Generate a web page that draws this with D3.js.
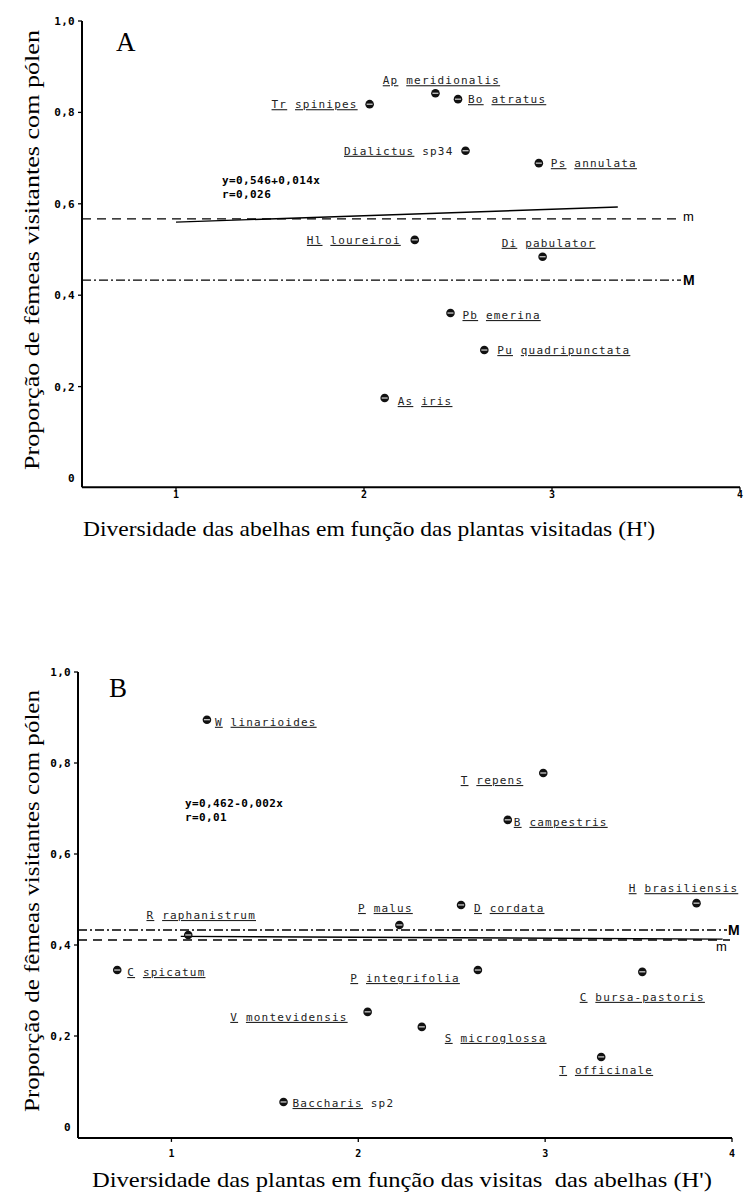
<!DOCTYPE html>
<html><head><meta charset="utf-8">
<script src="https://cdn.jsdelivr.net/npm/d3@7"></script>
<style>body{margin:0;background:#fff}</style>
</head><body>
<svg id="c" width="744" height="1193"></svg>
<script>
// ---------- DATA ----------
const beeNames = ["Tr spinipes","Ap meridionalis","Bo atratus","Dialictus sp34","Ps annulata","Hl loureiroi","Di pabulator","Pb emerina","Pu quadripunctata","As iris"];
const beeH     = [2.03, 2.38, 2.50, 2.54, 2.93, 2.27, 2.95, 2.46, 2.64, 2.11];
const beeProp  = [0.818, 0.842, 0.829, 0.716, 0.689, 0.521, 0.484, 0.361, 0.280, 0.175];

const plantNames = ["W linarioides","T repens","B campestris","H brasiliensis","D cordata","P malus","R raphanistrum","C spicatum","P integrifolia","C bursa-pastoris","V montevidensis","S microglossa","T officinale","Baccharis sp2"];
const plantH     = [1.19, 2.99, 2.80, 3.81, 2.55, 2.22, 1.09, 0.71, 2.64, 3.52, 2.05, 2.34, 3.30, 1.60];
const plantProp  = [0.895, 0.778, 0.675, 0.492, 0.488, 0.444, 0.422, 0.345, 0.345, 0.341, 0.253, 0.220, 0.154, 0.055];

const yTickValues = [0, 0.2, 0.4, 0.6, 0.8, 1.0];
const yTickLabels = ["0", "0,2", "0,4", "0,6", "0,8", "1,0"];
const xTickValues = [1, 2, 3, 4];
const xTickLabels = ["1", "2", "3", "4"];

const refNames  = ["m", "M"];
const refA      = [0.567, 0.433];
const refB      = [0.411, 0.433];

const regA      = [0.546, 0.014];          // intercept, slope
const regAxs    = [1.0, 3.35];
const regBxs    = [1.05, 3.95];
const regBys    = [0.419, 0.413];           // as drawn in the figure

const eqA = ["y=0,546+0,014x", "r=0,026"];
const eqB = ["y=0,462-0,002x", "r=0,01"];

const yTitle  = "Proporção de fêmeas visitantes com pólen";
const xTitleA = "Diversidade das abelhas em função das plantas visitadas (H')";
const xTitleB = "Diversidade das plantas em função das visitas  das abelhas (H')";

// ---------- LAYOUT (label placement, not data) ----------
const placeA = {
  "Tr spinipes":["l",12,0], "Ap meridionalis":["a",6,-13], "Bo atratus":["r",10,0],
  "Dialictus sp34":["l",12,0], "Ps annulata":["r",12,0], "Hl loureiroi":["l",14,0],
  "Di pabulator":["a",6,-14], "Pb emerina":["r",12,2], "Pu quadripunctata":["r",13,0], "As iris":["r",13,3]
};
const placeB = {
  "W linarioides":["r",8,2], "T repens":["l",20,7], "B campestris":["r",6,2],
  "H brasiliensis":["a",-13,-15], "D cordata":["r",13,3], "P malus":["a",-14,-17],
  "R raphanistrum":["a",13,-20], "C spicatum":["r",10,2], "P integrifolia":["l",18,8],
  "C bursa-pastoris":["b",0,25], "V montevidensis":["l",20,5], "S microglossa":["r",23,11],
  "T officinale":["b",5,13], "Baccharis sp2":["r",9,1]
};

const svg = d3.select("#c");
const mono = "'DejaVu Sans Mono', monospace";
const serif = "'Liberation Serif', 'Times New Roman', serif";

function panel(cfg) {
  const x = d3.scaleLinear().domain([0.5, 4]).range([cfg.left, cfg.right]);
  const y = d3.scaleLinear().domain([0, 1]).range([cfg.y0, cfg.y1]);
  const g = svg.append("g");
  const axisY = y(cfg.ymin);

  // axes lines
  g.append("line").attr("x1", x(0.5)).attr("x2", x(0.5)).attr("y1", y(1)).attr("y2", axisY)
    .attr("stroke", "#000").attr("stroke-width", 2);
  g.append("line").attr("x1", x(0.5)).attr("x2", x(4)).attr("y1", axisY).attr("y2", axisY)
    .attr("stroke", "#000").attr("stroke-width", 2);

  // y ticks
  yTickValues.forEach((v, i) => {
    if (v > 0) g.append("line").attr("x1", x(0.5) - 4).attr("x2", x(0.5)).attr("y1", y(v)).attr("y2", y(v))
      .attr("stroke", "#000").attr("stroke-width", 1.3);
    g.append("text").attr("x", x(0.5) - 7).attr("y", y(v) + 4).attr("text-anchor", "end")
      .attr("font-family", mono).attr("font-weight", "bold").attr("font-size", 11)
      .attr("letter-spacing", 0.3).text(yTickLabels[i]);
  });
  // x ticks
  xTickValues.forEach((v, i) => {
    g.append("line").attr("x1", x(v)).attr("x2", x(v)).attr("y1", axisY).attr("y2", axisY + 4)
      .attr("stroke", "#000").attr("stroke-width", 1.3);
    g.append("text").attr("x", x(v)).attr("y", axisY + cfg.xlabOff).attr("text-anchor", "middle")
      .attr("font-family", mono).attr("font-weight", "bold").attr("font-size", 10).text(xTickLabels[i]);
  });

  // reference lines m (dashed) and M (dash-dot)
  cfg.refs.forEach((v, i) => {
    const dash = refNames[i] === "m" ? "9,6" : "9,3,2,3";
    g.append("line").attr("x1", x(0.5)).attr("x2", cfg.refEnd[i]).attr("y1", y(v)).attr("y2", y(v))
      .attr("stroke", "#000").attr("stroke-width", 1.4).attr("stroke-dasharray", dash);
    const lp = cfg.refLab[i];
    g.append("text").attr("x", cfg.refEnd[i] + lp[0]).attr("y", y(v) + lp[1])
      .attr("font-family", "'Liberation Sans', Arial, sans-serif").attr("font-size", refNames[i] === "M" ? 14 : 13)
      .attr("font-weight", refNames[i] === "M" ? "bold" : "normal").text(refNames[i]);
  });

  // regression line
  g.append("path").datum(cfg.reg)
    .attr("d", d3.line().x(d => x(d[0])).y(d => y(d[1])))
    .attr("stroke", "#000").attr("stroke-width", 1.4).attr("fill", "none");

  // equation
  cfg.eq.forEach((t, i) => {
    g.append("text").attr("x", cfg.eqPos[0]).attr("y", cfg.eqPos[1] + i * 14)
      .attr("font-family", mono).attr("font-size", 11).attr("font-weight", "bold")
      .attr("letter-spacing", 0.4).text(t);
  });

  // points and labels
  cfg.names.forEach((name, i) => {
    const px = x(cfg.xs[i]), py = y(cfg.ys[i]);
    g.append("circle").attr("cx", px).attr("cy", py).attr("r", 4.3).attr("fill", "#111");
    g.append("line").attr("x1", px - 3).attr("x2", px + 3).attr("y1", py).attr("y2", py)
      .attr("stroke", "#fff").attr("stroke-width", 1);
    const p = cfg.place[name];
    let tx, ty = py + p[2] + 4, anchor;
    if (p[0] === "r") { tx = px + p[1]; anchor = "start"; }
    else if (p[0] === "l") { tx = px - p[1]; anchor = "end"; }
    else { tx = px + p[1]; anchor = "middle"; }
    const t = g.append("text").attr("x", tx).attr("y", ty).attr("text-anchor", anchor)
      .attr("font-family", mono).attr("font-size", 11).attr("letter-spacing", 1.2).attr("fill", "#222");
    const words = name.split(" ");
    words.forEach((w, k) => {
      if (k > 0) t.append("tspan").text(" ");
      const under = !/^sp\d+$/.test(w);
      t.append("tspan").attr("text-decoration", under ? "underline" : "none").text(w);
    });
  });

  // panel letter
  g.append("text").attr("x", cfg.letterPos[0]).attr("y", cfg.letterPos[1])
    .attr("font-family", serif).attr("font-size", 27).text(cfg.letter);

  // axis titles
  g.append("text").attr("transform", `translate(${cfg.ytPos[0]},${cfg.ytPos[1]}) rotate(-90)`)
    .attr("text-anchor", "middle").attr("font-family", serif).attr("font-size", 22)
    .attr("textLength", cfg.ytLen).attr("lengthAdjust", "spacingAndGlyphs")
    .text(yTitle);
  g.append("text").attr("x", cfg.xtPos[0]).attr("y", cfg.xtPos[1]).attr("text-anchor", "middle")
    .style("white-space", "pre")
    .attr("font-family", serif).attr("font-size", 22)
    .attr("textLength", cfg.xtLen).attr("lengthAdjust", "spacingAndGlyphs")
    .text(cfg.xtitle);
}

panel({
  left: 82, right: 740, y0: 478, y1: 21, ymin: -0.02, xlabOff: 11,
  names: beeNames, xs: beeH, ys: beeProp, place: placeA,
  refs: refA, refEnd: [681, 681], refLab: [[2, 2], [2, 5]],
  reg: regAxs.map(v => [v, regA[0] + regA[1] * v]),
  eq: eqA, eqPos: [222, 184],
  letter: "A", letterPos: [116, 51],
  ytPos: [39, 250], ytLen: 440, xtPos: [369, 536], xtLen: 572,
  xtitle: xTitleA
});

panel({
  left: 78, right: 732, y0: 1127, y1: 672, ymin: -0.024, xlabOff: 19,
  names: plantNames, xs: plantH, ys: plantProp, place: placeB,
  refs: refB, refEnd: [730, 727], refLab: [[-14, 11], [1, 5]],
  reg: regBxs.map((v, i) => [v, regBys[i]]),
  eq: eqB, eqPos: [185, 807],
  letter: "B", letterPos: [109, 697],
  ytPos: [39, 901], ytLen: 422, xtPos: [402, 1187], xtLen: 620,
  xtitle: xTitleB
});
</script>
</body></html>
